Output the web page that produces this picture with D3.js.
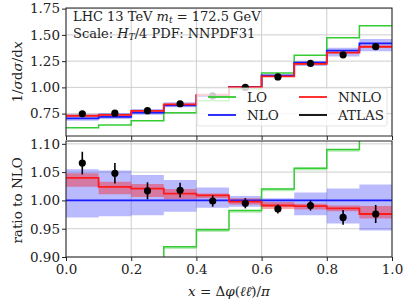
<!DOCTYPE html>
<html>
<head>
<meta charset="utf-8">
<script src="https://cdn.jsdelivr.net/npm/d3@7"></script>
<style>
body { margin: 0; background: #fff; }
svg text { font-family: "DejaVu Serif", serif; fill: #222; }
</style>
</head>
<body>
<div id="chart"></div>
<script>
// ========== data ==========
var binEdges = [0, 0.1, 0.2, 0.3, 0.4, 0.5, 0.6, 0.7, 0.8, 0.9, 1.0];

// top panel: 1/sigma dsigma/dx
var nloTop  = [0.704, 0.719, 0.760, 0.828, 0.920, 1.005, 1.115, 1.235, 1.350, 1.420];
var nnloTop = [0.730, 0.738, 0.776, 0.838, 0.928, 1.003, 1.105, 1.223, 1.331, 1.386];
var loTop   = [0.616, 0.641, 0.682, 0.758, 0.872, 0.987, 1.137, 1.305, 1.472, 1.588];
var atlasTop = [0.748, 0.754, 0.778, 0.844, 0.919, 1.000, 1.100, 1.228, 1.310, 1.388];
var nloBandTopLo  = [0.683, 0.699, 0.740, 0.811, 0.908, 0.994, 1.103, 1.203, 1.295, 1.345];
var nloBandTopHi  = [0.743, 0.757, 0.794, 0.858, 0.941, 1.013, 1.119, 1.252, 1.378, 1.460];
var nnloBandTopLo = [0.721, 0.727, 0.765, 0.830, 0.924, 0.998, 1.098, 1.215, 1.324, 1.375];
var nnloBandTopHi = [0.738, 0.743, 0.782, 0.845, 0.931, 1.009, 1.112, 1.228, 1.338, 1.406];

// bottom panel: ratio to NLO
var nnloRatio   = [1.040, 1.024, 1.021, 1.012, 1.009, 0.998, 0.991, 0.990, 0.986, 0.976];
var nnloRatioLo = [1.024, 1.011, 1.006, 1.002, 1.004, 0.993, 0.985, 0.984, 0.981, 0.968];
var nnloRatioHi = [1.048, 1.033, 1.029, 1.020, 1.012, 1.004, 0.997, 0.994, 0.991, 0.990];
var nloRatioLo  = [0.970, 0.972, 0.974, 0.980, 0.987, 0.989, 0.989, 0.974, 0.959, 0.947];
var nloRatioHi  = [1.055, 1.053, 1.045, 1.036, 1.023, 1.008, 1.004, 1.014, 1.021, 1.028];
var loRatio     = [0.875, 0.891, 0.897, 0.918, 0.948, 0.982, 1.020, 1.057, 1.090, 1.118];
var loRatioLo   = [0.871, 0.887, 0.893, 0.914, 0.944, 0.978, 1.016, 1.053, 1.086, 1.114];
var loRatioHi   = [0.876, 0.892, 0.898, 0.919, 0.949, 0.983, 1.021, 1.058, 1.091, 1.119];
var atlasRatio    = [1.066, 1.048, 1.017, 1.018, 0.999, 0.995, 0.985, 0.991, 0.970, 0.976];
var atlasRatioErr = [0.020, 0.018, 0.015, 0.013, 0.010, 0.009, 0.008, 0.009, 0.013, 0.016];

var xTicks = [0, 0.2, 0.4, 0.6, 0.8, 1.0];
var yTicksTop = [0.75, 1.00, 1.25, 1.50, 1.75];
var yTicksRatio = [0.90, 0.95, 1.00, 1.05, 1.10];

var colLO = "#33cc33", colNLO = "#1a1aff", colNNLO = "#ff1a1a";

// ========== chart setup ==========
var svgWidth = 409, svgHeight = 307;
var left = 66, right = 392;
var top1 = 8, bot1 = 136;
var top2 = 141, bot2 = 257;

var svg = d3.select("#chart").append("svg").attr("width", svgWidth).attr("height", svgHeight);

var xScale = d3.scaleLinear().domain([0, 1]).range([left, right]);
var yTop = d3.scaleLinear().domain([0.537, 1.756]).range([bot1, top1]);
var yRat = d3.scaleLinear().domain([0.9, 1.105]).range([bot2, top2]);

// clip paths
var defs = svg.append("defs");
defs.append("clipPath").attr("id", "clipTop").append("rect")
  .attr("x", left).attr("y", top1).attr("width", right - left).attr("height", bot1 - top1);
defs.append("clipPath").attr("id", "clipRat").append("rect")
  .attr("x", left).attr("y", top2).attr("width", right - left).attr("height", bot2 - top2);

// helpers: step series from bin values (last value repeated at right edge)
function stepPts(vals) {
  return binEdges.map((e, i) => ({x: e, v: vals[Math.min(i, vals.length - 1)]}));
}
function bandPts(lo, hi) {
  return binEdges.map((e, i) => ({x: e, lo: lo[Math.min(i, lo.length - 1)], hi: hi[Math.min(i, hi.length - 1)]}));
}

function drawGrid(g, yScale, yTicks, y0, y1) {
  g.append("g").selectAll("line").data(xTicks).enter().append("line")
    .attr("x1", d => xScale(d)).attr("x2", d => xScale(d))
    .attr("y1", y0).attr("y2", y1)
    .attr("stroke", "#c8c8c8").attr("stroke-width", 0.9);
  g.append("g").selectAll("line").data(yTicks).enter().append("line")
    .attr("x1", left).attr("x2", right)
    .attr("y1", d => yScale(d)).attr("y2", d => yScale(d))
    .attr("stroke", "#c8c8c8").attr("stroke-width", 0.9);
}

function drawAxes(g, yScale, yTicks, y0, y1, showXLabels) {
  var yAxis = d3.axisLeft(yScale).tickValues(yTicks).tickFormat(d3.format(".2f")).tickSize(4).tickPadding(2);
  var ya = g.append("g").attr("transform", `translate(${left},0)`).call(yAxis);
  ya.select(".domain").remove();
  ya.selectAll("text").attr("font-size", "13.5px").attr("font-family", "DejaVu Serif").attr("fill", "#222");
  ya.selectAll("line").attr("stroke", "#222");

  var xAxis = d3.axisBottom(xScale).tickValues(xTicks).tickFormat(showXLabels ? d3.format(".1f") : "").tickSize(4).tickPadding(3);
  var xa = g.append("g").attr("transform", `translate(0,${y1})`).call(xAxis);
  xa.select(".domain").remove();
  xa.selectAll("text").attr("font-size", "13.5px").attr("font-family", "DejaVu Serif").attr("fill", "#222");
  xa.selectAll("line").attr("stroke", "#222");

  g.append("rect").attr("x", left).attr("y", y0).attr("width", right - left).attr("height", y1 - y0)
    .attr("fill", "none").attr("stroke", "#222").attr("stroke-width", 1);
}

// ========== TOP PANEL ==========
var gTop = svg.append("g");
drawGrid(gTop, yTop, yTicksTop, top1, bot1);

var plotTop = gTop.append("g").attr("clip-path", "url(#clipTop)");
var lineTop = d3.line().x(d => xScale(d.x)).y(d => yTop(d.v)).curve(d3.curveStepAfter);
var areaTop = d3.area().x(d => xScale(d.x)).y0(d => yTop(d.lo)).y1(d => yTop(d.hi)).curve(d3.curveStepAfter);

plotTop.append("path").attr("d", areaTop(bandPts(nloBandTopLo, nloBandTopHi)))
  .attr("fill", colNLO).attr("opacity", 0.3);
plotTop.append("path").attr("d", areaTop(bandPts(nnloBandTopLo, nnloBandTopHi)))
  .attr("fill", colNNLO).attr("opacity", 0.35);
plotTop.append("path").attr("d", lineTop(stepPts(loTop)))
  .attr("fill", "none").attr("stroke", colLO).attr("stroke-width", 1.5);
plotTop.append("path").attr("d", lineTop(stepPts(nloTop)))
  .attr("fill", "none").attr("stroke", colNLO).attr("stroke-width", 1.8);
plotTop.append("path").attr("d", lineTop(stepPts(nnloTop)))
  .attr("fill", "none").attr("stroke", colNNLO).attr("stroke-width", 1.8);

plotTop.selectAll("circle").data(atlasTop).enter().append("circle")
  .attr("cx", (d, i) => xScale((binEdges[i] + binEdges[i + 1]) / 2))
  .attr("cy", d => yTop(d))
  .attr("r", 3.6).attr("fill", "#000");

drawAxes(gTop, yTop, yTicksTop, top1, bot1, false);

// header text
var head = gTop.append("g").attr("font-size", "13px");
var t1 = head.append("text").attr("x", 73).attr("y", 20.5);
t1.append("tspan").text("LHC 13 TeV ");
t1.append("tspan").attr("font-style", "italic").text("m");
t1.append("tspan").attr("font-style", "italic").attr("font-size", "9px").attr("dy", 2.5).text("t");
t1.append("tspan").attr("dy", -2.5).text(" = 172.5 GeV");
var t2 = head.append("text").attr("x", 73).attr("y", 37.5);
t2.append("tspan").text("Scale: ");
t2.append("tspan").attr("font-style", "italic").text("H");
t2.append("tspan").attr("font-style", "italic").attr("font-size", "9px").attr("dy", 2.5).text("T");
t2.append("tspan").attr("dy", -2.5).text("/4 PDF: NNPDF31");

// legend
var leg = gTop.append("g");
leg.append("rect").attr("x", 197).attr("y", 88).attr("width", 190).attr("height", 38).attr("rx", 2)
  .attr("fill", "#fff").attr("fill-opacity", 0.8).attr("stroke", "#dddddd").attr("stroke-width", 0.8);
var legItems = [
  {name: "LO", color: colLO, x: 208, y: 97},
  {name: "NNLO", color: colNNLO, x: 299, y: 97},
  {name: "NLO", color: colNLO, x: 208, y: 115},
  {name: "ATLAS", color: "#000", x: 299, y: 115}
];
legItems.forEach(function(d) {
  leg.append("line").attr("x1", d.x).attr("x2", d.x + 28).attr("y1", d.y).attr("y2", d.y)
    .attr("stroke", d.color).attr("stroke-width", 1.8);
  leg.append("text").attr("x", d.x + 39).attr("y", d.y).attr("dy", "0.36em")
    .attr("font-size", "13.5px").text(d.name);
});

// y label top
svg.append("text")
  .attr("transform", `translate(22, ${(top1 + bot1) / 2}) rotate(-90)`)
  .attr("text-anchor", "middle").attr("font-size", "13.5px")
  .call(t => {
    t.append("tspan").text("1/");
    t.append("tspan").attr("font-style", "italic").text("σ");
    t.append("tspan").text("d");
    t.append("tspan").attr("font-style", "italic").text("σ");
    t.append("tspan").text("/d");
    t.append("tspan").attr("font-style", "italic").text("x");
  });

// ========== RATIO PANEL ==========
var gRat = svg.append("g");
drawGrid(gRat, yRat, yTicksRatio, top2, bot2);

var plotRat = gRat.append("g").attr("clip-path", "url(#clipRat)");
var lineRat = d3.line().x(d => xScale(d.x)).y(d => yRat(d.v)).curve(d3.curveStepAfter);
var areaRat = d3.area().x(d => xScale(d.x)).y0(d => yRat(d.lo)).y1(d => yRat(d.hi)).curve(d3.curveStepAfter);

plotRat.append("path").attr("d", areaRat(bandPts(nloRatioLo, nloRatioHi)))
  .attr("fill", colNLO).attr("opacity", 0.3);
plotRat.append("path").attr("d", areaRat(bandPts(nnloRatioLo, nnloRatioHi)))
  .attr("fill", colNNLO).attr("opacity", 0.4);
plotRat.append("path").attr("d", areaRat(bandPts(loRatioLo, loRatioHi)))
  .attr("fill", colLO).attr("opacity", 0.35);
plotRat.append("path").attr("d", lineRat(stepPts(loRatio)))
  .attr("fill", "none").attr("stroke", colLO).attr("stroke-width", 1.5);
plotRat.append("line").attr("x1", left).attr("x2", right).attr("y1", yRat(1)).attr("y2", yRat(1))
  .attr("stroke", colNLO).attr("stroke-width", 1.8);
plotRat.append("path").attr("d", lineRat(stepPts(nnloRatio)))
  .attr("fill", "none").attr("stroke", colNNLO).attr("stroke-width", 1.8);

var pts = plotRat.append("g");
pts.selectAll("line").data(atlasRatio).enter().append("line")
  .attr("x1", (d, i) => xScale((binEdges[i] + binEdges[i + 1]) / 2))
  .attr("x2", (d, i) => xScale((binEdges[i] + binEdges[i + 1]) / 2))
  .attr("y1", (d, i) => yRat(d - atlasRatioErr[i]))
  .attr("y2", (d, i) => yRat(d + atlasRatioErr[i]))
  .attr("stroke", "#000").attr("stroke-width", 1.6);
pts.selectAll("circle").data(atlasRatio).enter().append("circle")
  .attr("cx", (d, i) => xScale((binEdges[i] + binEdges[i + 1]) / 2))
  .attr("cy", d => yRat(d))
  .attr("r", 3.6).attr("fill", "#000");

drawAxes(gRat, yRat, yTicksRatio, top2, bot2, true);

svg.append("text")
  .attr("transform", `translate(22, ${(yRat(0.9) + yRat(1.1)) / 2}) rotate(-90)`)
  .attr("text-anchor", "middle").attr("font-size", "13.5px")
  .text("ratio to NLO");

// x label
svg.append("text")
  .attr("x", (left + right) / 2).attr("y", 296)
  .attr("text-anchor", "middle").attr("font-size", "13.5px")
  .call(t => {
    t.append("tspan").attr("font-style", "italic").text("x");
    t.append("tspan").text(" = Δ");
    t.append("tspan").attr("font-style", "italic").text("φ");
    t.append("tspan").text("(");
    t.append("tspan").attr("font-style", "italic").text("ℓℓ\u0304");
    t.append("tspan").text(")/");
    t.append("tspan").attr("font-style", "italic").text("π");
  });
</script>
</body>
</html>
